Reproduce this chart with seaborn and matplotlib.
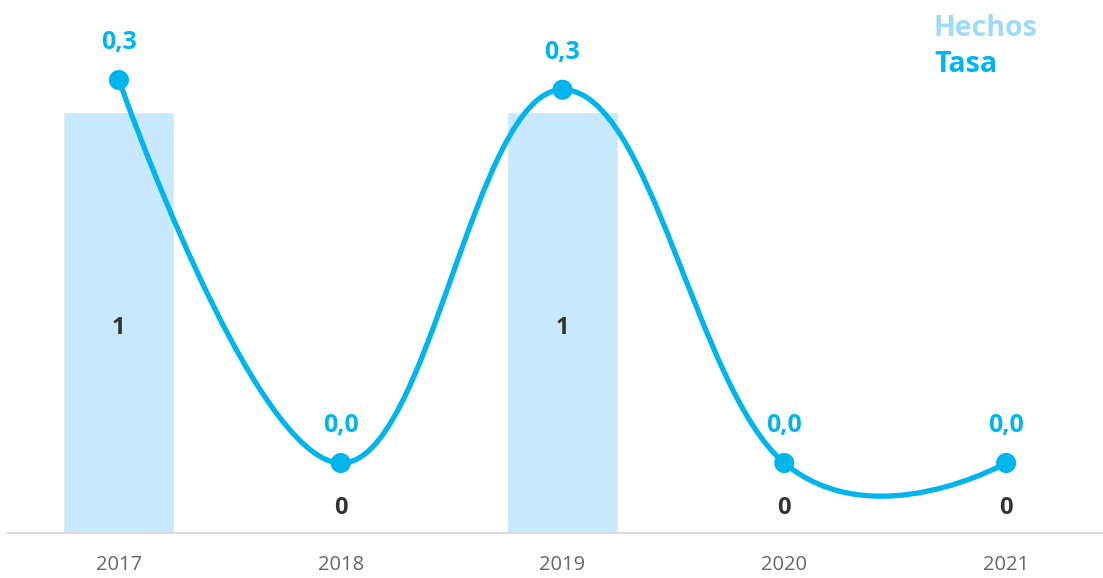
import matplotlib
matplotlib.use("Agg")
from matplotlib import pyplot as plt
from matplotlib.path import Path
from matplotlib.patches import PathPatch
import seaborn as sns
import pandas as pd

anios = ["2017", "2018", "2019", "2020", "2021"]
hechos = [1, 0, 1, 0, 0]
tasa = [0.315, 0.0, 0.307, 0.0, 0.0]

color_barra = "#c8e9fb"
color_linea = "#00b5ec"
color_hechos = "#9fdaf7"

sns.set_theme(style="white")
plt.rcParams["font.family"] = ["Open Sans", "DejaVu Sans"]

df = pd.DataFrame({"anio": anios, "hechos": hechos, "tasa": tasa})

fig = plt.figure(figsize=(11.03, 5.78), dpi=100)
W, H = 1103, 578
# area de dibujo en pixeles: x de 8 a 1117, y de 20 a 533
ax = fig.add_axes([8 / W, (H - 533) / H, 1109 / W, 513 / H])

sns.barplot(data=df, x="anio", y="hechos", color=color_barra, width=0.5,
            saturation=1, ax=ax)
ax.set_xlim(-0.5, 4.5)
ax.set_ylim(0, 513 / 421)
ax.set_xlabel("")
ax.set_ylabel("")
ax.set_yticks([])
for s in ["top", "left", "right"]:
    ax.spines[s].set_visible(False)
ax.spines["bottom"].set_color("#dddddd")
ax.spines["bottom"].set_linewidth(1.6)
ax.tick_params(axis="x", length=0, pad=16, labelsize=14.5, labelcolor="#666666")

for i, v in enumerate(hechos):
    if v > 0:
        ax.annotate(str(v), (i, v / 2), xytext=(0, -4), textcoords="offset points",
                    ha="center", va="center", fontsize=17, fontweight="bold",
                    color="#333333")
    else:
        ax.annotate(str(v), (i, 0), xytext=(0, 18), textcoords="offset points",
                    ha="center", va="center", fontsize=17, fontweight="bold",
                    color="#333333")

ax2 = ax.twinx()
escala = 383 / tasa[0]
ax2.set_ylim(-70 / escala, (513 - 70) / escala)
ax2.set_yticks([])
for s in ["top", "left", "right", "bottom"]:
    ax2.spines[s].set_visible(False)

# curva suavizada estilo spline (puntos de control bezier)
xs = list(range(len(tasa)))
ys = tasa
n = len(xs)
ctrl = []
for i in range(n):
    if i == 0 or i == n - 1:
        ctrl.append(((xs[i], ys[i]), (xs[i], ys[i])))
        continue
    lx = (1.5 * xs[i] + xs[i - 1]) / 2.5
    ly = (1.5 * ys[i] + ys[i - 1]) / 2.5
    rx = (1.5 * xs[i] + xs[i + 1]) / 2.5
    ry = (1.5 * ys[i] + ys[i + 1]) / 2.5
    corr = (ry - ly) * (rx - xs[i]) / (rx - lx) + ys[i] - ry
    ctrl.append(((lx, ly + corr), (rx, ry + corr)))

verts = [(xs[0], ys[0])]
codes = [Path.MOVETO]
for i in range(1, n):
    verts += [ctrl[i - 1][1], ctrl[i][0], (xs[i], ys[i])]
    codes += [Path.CURVE4] * 3
ax2.add_patch(PathPatch(Path(verts, codes), facecolor="none",
                        edgecolor=color_linea, lw=3.8, capstyle="round"))

sns.scatterplot(x=xs, y=ys, color=color_linea, s=210, edgecolor="none",
                ax=ax2, zorder=5)

for i, v in enumerate(tasa):
    ax2.annotate(f"{v:.1f}".replace(".", ","), (i, v), xytext=(0, 27),
                 textcoords="offset points", ha="center", va="center",
                 fontsize=18, fontweight="bold", color=color_linea)

fig.text(934 / W, 1 - 28 / H, "Hechos", ha="left", va="center", fontsize=20.5,
         fontweight="bold", color=color_hechos)
fig.text(934 / W, 1 - 65 / H, "Tasa", ha="left", va="center", fontsize=20.5,
         fontweight="bold", color=color_linea)

fig.savefig("out.png", dpi=100)
